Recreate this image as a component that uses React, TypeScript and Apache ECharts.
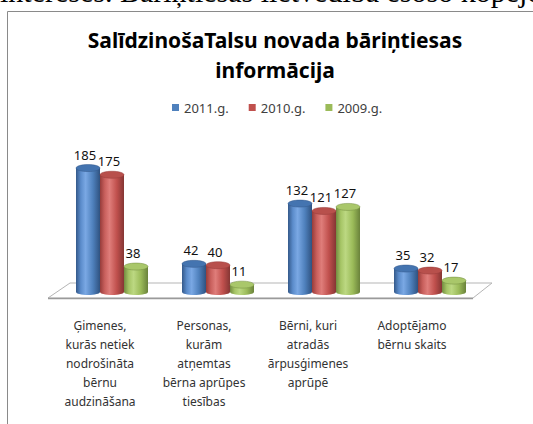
import React, { useEffect, useRef } from 'react';
import * as echarts from 'echarts';

const categories = [
  'Ģimenes,\nkurās netiek\nnodrošināta\nbērnu\naudzināšana',
  'Personas,\nkurām\natņemtas\nbērna aprūpes\ntiesības',
  'Bērni, kuri\natradās\nārpusģimenes\naprūpē',
  'Adoptējamo\nbērnu skaits',
];
const seriesNames = ['2011.g.', '2010.g.', '2009.g.'];
const values2011 = [185, 42, 132, 35];
const values2010 = [175, 40, 121, 32];
const values2009 = [38, 11, 127, 17];
const titleText = 'SalīdzinošaTalsu novada bāriņtiesas\ninformācija';
const pageText = 'intereses. Bāriņtiesas lietvedībā esošo kopējo';

const solidColors = ['#4F81BD', '#C0504D', '#9BBB59'];
const bodyStops = [
  ['#34598a', '#5b8ccb', '#7aa8e4', '#4f81bd', '#2f5280'],
  ['#963c3a', '#c9605d', '#df7d7a', '#c0504d', '#853634'],
  ['#728c40', '#a6c566', '#bcd882', '#9bbb59', '#6a823b'],
];
const capColors = ['#4474b0', '#b8504c', '#a9c76a'];

function grad(i: number) {
  const s = bodyStops[i];
  return new echarts.graphic.LinearGradient(0, 0, 1, 0, [
    { offset: 0, color: s[0] },
    { offset: 0.2, color: s[1] },
    { offset: 0.4, color: s[2] },
    { offset: 0.7, color: s[3] },
    { offset: 1, color: s[4] },
  ]);
}

export default function App() {
  const ref = useRef<HTMLDivElement>(null);
  useEffect(() => {
    if (!ref.current) return;
    const chart = echarts.init(ref.current, undefined, { renderer: 'svg' });
    const allValues = [values2011, values2010, values2009];
    const barW = 24;
    const bars = allValues.map((vals, i) => ({
      name: seriesNames[i],
      type: 'bar',
      xAxisIndex: 0,
      yAxisIndex: 0,
      data: vals,
      barWidth: barW,
      barGap: '0%',
      itemStyle: { color: grad(i) },
      label: {
        show: true,
        position: 'top',
        distance: 7,
        offset: [-3, 0],
        fontSize: 13,
        color: '#111',
        fontFamily: 'Noto Sans',
      },
      z: 2,
    }));
    const caps = allValues.map((vals, i) => ({
      name: '_cap' + i,
      type: 'custom',
      xAxisIndex: 0,
      yAxisIndex: 0,
      data: vals.map((v, k) => [k, v]),
      encode: { x: 0, y: 1 },
      z: 3,
      silent: true,
      renderItem: (params: any, api: any) => {
        const cat = api.value(0);
        const val = api.value(1);
        const p = api.coord([cat, val]);
        const p0 = api.coord([cat, 0]);
        const cx = p[0] - 1.5 * barW + (i + 0.5) * barW;
        return {
          type: 'group',
          children: [
            {
              type: 'ellipse',
              shape: { cx, cy: p0[1], rx: barW / 2, ry: 3 },
              style: { fill: grad(i) },
            },
            {
              type: 'ellipse',
              shape: { cx, cy: p[1], rx: barW / 2, ry: 3.5 },
              style: { fill: capColors[i], stroke: bodyStops[i][0], lineWidth: 0.5 },
            },
          ],
        };
      },
    }));

    const option: any = {
      animation: false,
      backgroundColor: '#fff',
      title: {
        text: titleText,
        left: 275,
        top: 25,
        padding: 0,
        textAlign: 'center',
        textStyle: {
          fontFamily: 'Noto Sans',
          fontWeight: 'bold',
          fontSize: 21,
          lineHeight: 30,
          color: '#000',
        },
      },
      legend: {
        top: 101,
        left: 172,
        padding: 0,
        itemWidth: 7,
        itemHeight: 7,
        itemGap: 20,
        icon: 'rect',
        textStyle: { fontFamily: 'Noto Sans', fontSize: 13, color: '#404040' },
        data: seriesNames.map((n, i) => ({ name: n, itemStyle: { color: solidColors[i] } })),
      },
      grid: [
        { left: 59, width: 424, top: 158, height: 134 },
        { left: 48, width: 416, top: 158, height: 134 },
      ],
      xAxis: [
        { type: 'category', gridIndex: 0, data: categories, show: false },
        {
          type: 'category',
          gridIndex: 1,
          data: categories,
          axisLine: { show: false },
          axisTick: { show: false },
          axisLabel: {
            interval: 0,
            margin: 24,
            lineHeight: 19,
            fontSize: 12,
            color: '#333',
            fontFamily: 'Noto Sans',
            align: 'center',
          },
        },
      ],
      yAxis: [
        { type: 'value', gridIndex: 0, min: 0, max: 200, show: false },
        { type: 'value', gridIndex: 1, min: 0, max: 200, show: false },
      ],
      graphic: [
        {
          type: 'text',
          z: 0,
          style: {
            text: pageText,
            x: 0,
            y: -9,
            font: '30px "Liberation Serif"',
            fill: '#000',
            verticalAlign: 'middle',
          },
        },
        {
          type: 'rect',
          z: 0,
          shape: { x: 7.5, y: 11.5, width: 700, height: 600 },
          style: { fill: 'none', stroke: '#8a8a8a', lineWidth: 1 },
        },
        {
          type: 'polygon',
          z: 1,
          shape: { points: [[48, 298], [70, 283], [492, 283], [473, 298]] },
          style: { fill: '#ffffff', stroke: '#b5b5b5', lineWidth: 1 },
        },
        {
          type: 'line',
          z: 1,
          shape: { x1: 48, y1: 298.5, x2: 473, y2: 298.5 },
          style: { stroke: '#9a9a9a', lineWidth: 1.5 },
        },
      ],
      series: [...bars, ...caps],
    };
    chart.setOption(option);
    return () => chart.dispose();
  }, []);
  return (
    <div
      ref={ref}
      style={{ position: 'fixed', left: 0, top: 0, width: 533, height: 424 }}
    />
  );
}
